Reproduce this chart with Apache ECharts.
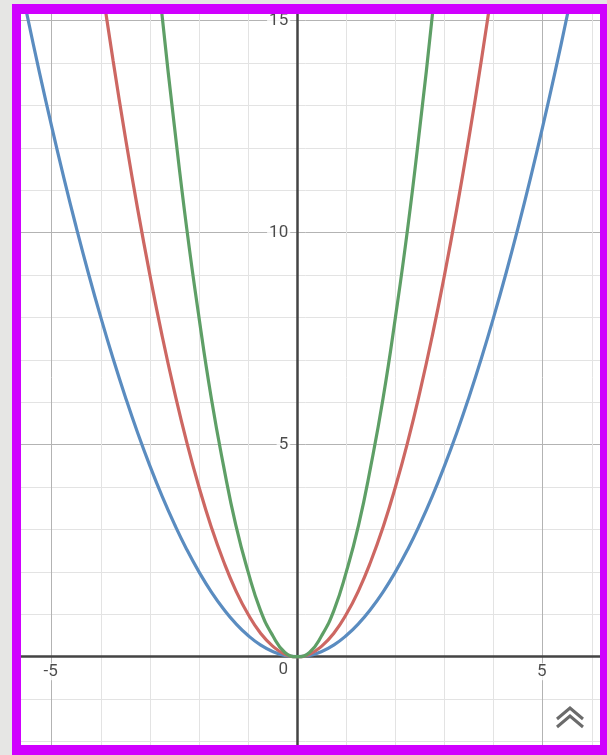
<!DOCTYPE html>
<html>
<head>
<meta charset="utf-8">
<script src="https://cdn.jsdelivr.net/npm/echarts@6/dist/echarts.min.js"></script>
<style>
html,body{margin:0;padding:0;background:#fff;}
#c{width:607px;height:755px;}
</style>
</head>
<body>
<div id="c"></div>
<script>
// Sample x positions
var xs = [-6,-5.75,-5.5,-5.25,-5,-4.75,-4.5,-4.25,-4,-3.75,-3.5,-3.25,-3,-2.75,-2.5,-2.25,-2,-1.75,-1.5,-1.25,-1,-0.75,-0.5,-0.25,0,
          0.25,0.5,0.75,1,1.25,1.5,1.75,2,2.25,2.5,2.75,3,3.25,3.5,3.75,4,4.25,4.5,4.75,5,5.25,5.5,5.75,6];
// Blue curve values
var blueY = [18,16.53,15.125,13.78,12.5,11.28,10.125,9.03,8,7.03,6.125,5.28,4.5,3.78,3.125,2.53,2,1.53,1.125,0.78,0.5,0.28,0.125,0.03,0,
             0.03,0.125,0.28,0.5,0.78,1.125,1.53,2,2.53,3.125,3.78,4.5,5.28,6.125,7.03,8,9.03,10.125,11.28,12.5,13.78,15.125,16.53,18];
// Red curve values
var redY = [36,33.06,30.25,27.56,25,22.56,20.25,18.06,16,14.06,12.25,10.56,9,7.56,6.25,5.06,4,3.06,2.25,1.56,1,0.56,0.25,0.06,0,
            0.06,0.25,0.56,1,1.56,2.25,3.06,4,5.06,6.25,7.56,9,10.56,12.25,14.06,16,18.06,20.25,22.56,25,27.56,30.25,33.06,36];
// Green curve values
var greenY = [72,66.1,60.5,55.1,50,45.1,40.5,36.1,32,28.1,24.5,21.1,18,15.1,12.5,10.1,8,6.1,4.5,3.1,2,1.1,0.5,0.1,0,
              0.1,0.5,1.1,2,3.1,4.5,6.1,8,10.1,12.5,15.1,18,21.1,24.5,28.1,32,36.1,40.5,45.1,50,55.1,60.5,66.1,72];
// Labelled ticks
var xTickLabels = [-5, 5];
var yTickLabels = [5, 10, 15];

function pairs(ys){ return xs.map(function(x,i){ return [x, ys[i]]; }); }

var chart = echarts.init(document.getElementById('c'), null, {renderer:'canvas'});
var txt = {fontFamily:'Roboto', fontSize:17, color:'#1e1e1e', backgroundColor:'#fff', padding:[0,2,0,2]};
function lab(extra){ return Object.assign({show:true, formatter:function(p){ return String(p.value[2]); }}, txt, extra); }

chart.setOption({
  animation:false,
  backgroundColor:'#ffffff',
  grid:{left:2.6, top:-21.86, width:638.3, height:805.8, containLabel:false, outerBoundsMode:'none'},
  xAxis:{
    type:'value', min:-6, max:7, interval:1,
    axisLine:{onZero:true, lineStyle:{color:'#444', width:2.5}},
    axisTick:{show:false},
    axisLabel:{show:false},
    splitLine:{show:true, lineStyle:{width:1, color:['#e3e3e3','#b3b3b3','#e3e3e3','#e3e3e3','#e3e3e3']}}
  },
  yAxis:{
    type:'value', min:-3, max:16, interval:1,
    axisLine:{onZero:true, lineStyle:{color:'#444', width:2.5}},
    axisTick:{show:false},
    axisLabel:{show:false},
    splitLine:{show:true, lineStyle:{width:1, color:['#e3e3e3','#e3e3e3','#e3e3e3','#b3b3b3','#e3e3e3']}}
  },
  series:[
    {type:'line', data:pairs(blueY), smooth:true, showSymbol:false, clip:true, z:3, lineStyle:{color:'#5a8cc0', width:3.2}},
    {type:'line', data:pairs(redY), smooth:true, showSymbol:false, clip:true, z:3, lineStyle:{color:'#cd6762', width:3.2}},
    {type:'line', data:pairs(greenY), smooth:true, showSymbol:false, clip:true, z:3, lineStyle:{color:'#5e9f66', width:3.2}},
    {type:'scatter', z:5, symbolSize:1, itemStyle:{color:'rgba(0,0,0,0)'}, silent:true,
     data:xTickLabels.map(function(v){ return [v,0,v]; }),
     label:lab({position:'inside', align:'center', verticalAlign:'middle', offset:[-1,15]})},
    {type:'scatter', z:5, symbolSize:1, itemStyle:{color:'rgba(0,0,0,0)'}, silent:true,
     data:[[0,0,0]],
     label:lab({position:'inside', align:'center', verticalAlign:'middle', offset:[-14,13], backgroundColor:'transparent'})},
    {type:'scatter', z:5, symbolSize:1, itemStyle:{color:'rgba(0,0,0,0)'}, silent:true,
     data:yTickLabels.map(function(v){ return [0,v,v]; }),
     label:lab({position:'inside', align:'right', verticalAlign:'middle', offset:[-7,0]})}
  ],
  graphic:[
    {type:'rect', z:100, shape:{x:0,y:0,width:12,height:755}, style:{fill:'#e6e6e4'}},
    {type:'rect', z:100, shape:{x:0,y:0,width:607,height:4}, style:{fill:'#e6e6e4'}},
    {type:'rect', z:101, shape:{x:12,y:4,width:9,height:751}, style:{fill:'#d000ff'}},
    {type:'rect', z:101, shape:{x:12,y:4,width:595,height:10}, style:{fill:'#d000ff'}},
    {type:'rect', z:101, shape:{x:600,y:4,width:7,height:751}, style:{fill:'#d000ff'}},
    {type:'rect', z:101, shape:{x:12,y:745,width:595,height:10}, style:{fill:'#d000ff'}},
    {type:'polyline', z:102, shape:{points:[[557,719],[570,708],[583,719]]}, style:{stroke:'#6b6b6b', lineWidth:3, fill:null}},
    {type:'polyline', z:102, shape:{points:[[557,727],[570,716],[583,727]]}, style:{stroke:'#6b6b6b', lineWidth:3, fill:null}}
  ]
});
</script>
</body>
</html>
